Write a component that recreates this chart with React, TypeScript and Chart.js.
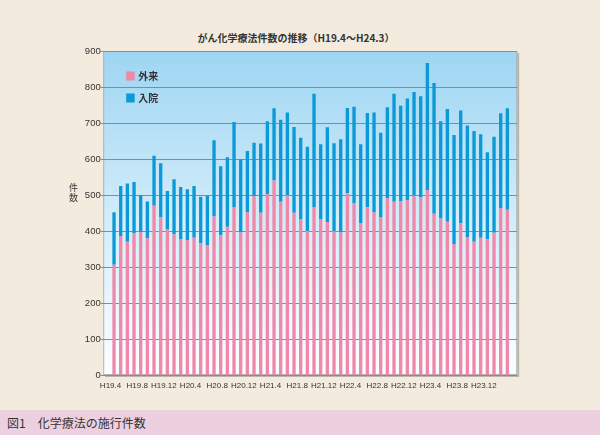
import React, { useEffect, useRef } from "react";
import { Chart, registerables } from "chart.js";

Chart.register(...registerables);

const months: string[] = [
  "H19.4", "H19.5", "H19.6", "H19.7", "H19.8", "H19.9", "H19.10", "H19.11", "H19.12",
  "H20.1", "H20.2", "H20.3", "H20.4", "H20.5", "H20.6", "H20.7", "H20.8", "H20.9", "H20.10", "H20.11", "H20.12",
  "H21.1", "H21.2", "H21.3", "H21.4", "H21.5", "H21.6", "H21.7", "H21.8", "H21.9", "H21.10", "H21.11", "H21.12",
  "H22.1", "H22.2", "H22.3", "H22.4", "H22.5", "H22.6", "H22.7", "H22.8", "H22.9", "H22.10", "H22.11", "H22.12",
  "H23.1", "H23.2", "H23.3", "H23.4", "H23.5", "H23.6", "H23.7", "H23.8", "H23.9", "H23.10", "H23.11", "H23.12",
  "H24.1", "H24.2", "H24.3",
];

// 外来 (outpatient)
const outpatient: number[] = [
  306, 386, 370, 393, 397, 380, 470, 438, 404, 391, 378, 375, 381, 366, 360,
  440, 388, 412, 465, 396, 452, 497, 451, 503, 540, 481, 499, 451, 432, 400,
  465, 433, 425, 399, 396, 505, 478, 422, 466, 453, 439, 492, 481, 483, 486,
  498, 493, 514, 448, 435, 426, 364, 422, 383, 370, 381, 377, 395, 464, 459,
];

// 入院 (inpatient)
const inpatient: number[] = [
  146, 139, 162, 143, 103, 102, 139, 150, 107, 153, 144, 141, 144, 129, 138,
  212, 192, 193, 238, 203, 170, 148, 192, 202, 201, 228, 230, 238, 227, 234,
  316, 208, 263, 245, 259, 237, 267, 219, 262, 276, 234, 252, 300, 265, 282,
  288, 281, 353, 363, 270, 313, 303, 313, 310, 308, 288, 242, 267, 263, 282,
];

const yTicks: number[] = [0, 100, 200, 300, 400, 500, 600, 700, 800, 900];

const titleText = "がん化学療法件数の推移（H19.4～H24.3）";
const yTitle = ["件", "数"];
const legendLabels = ["外来", "入院"];
const captionText = "図1　化学療法の施行件数";

const PINK = "#F088A9";
const BLUE = "#0B9AD7";
const CJK = '"Noto Sans CJK JP", "Noto Sans", sans-serif';

const plotBgPlugin = {
  id: "plotBg",
  beforeDatasetsDraw(chart: any) {
    const { ctx, chartArea, scales } = chart;
    const left = chartArea.left - 7.5;
    const right = chartArea.right + 6.5;
    const top = chartArea.top;
    const bottom = chartArea.bottom;
    ctx.save();
    // shadow
    ctx.fillStyle = "rgba(120,115,105,0.45)";
    ctx.fillRect(left + 2, top + 2, right - left, bottom - top);
    // gradient fill
    const g = ctx.createLinearGradient(0, top, 0, bottom);
    g.addColorStop(0, "#9ED5F3");
    g.addColorStop(0.55, "#D6EEFA");
    g.addColorStop(1, "#FCFEFF");
    ctx.fillStyle = g;
    ctx.fillRect(left, top, right - left, bottom - top);
    ctx.strokeStyle = "#A9B4BA";
    ctx.lineWidth = 1;
    ctx.strokeRect(left + 0.5, top + 0.5, right - left - 1, bottom - top - 1);
    // grid lines + tick marks
    ctx.strokeStyle = "#7F8E98";
    ctx.lineWidth = 1;
    const y = scales.y;
    yTicks.forEach((v) => {
      const py = Math.round(y.getPixelForValue(v)) + 0.5;
      ctx.beginPath();
      ctx.moveTo(left - 3, py);
      ctx.lineTo(right, py);
      ctx.stroke();
    });
    ctx.restore();
  },
  afterDraw(chart: any) {
    const { ctx, chartArea } = chart;
    ctx.save();
    // y axis title, vertical stacked
    ctx.fillStyle = "#333";
    ctx.font = `9px ${CJK}`;
    ctx.textAlign = "center";
    ctx.textBaseline = "middle";
    yTitle.forEach((ch, i) => {
      ctx.fillText(ch, 73.5, 187.5 + i * 10);
    });
    // legend inside plot
    const lx = chartArea.left + 15.5;
    const colors = [PINK, BLUE];
    const ys = [71.5, 93.5];
    ctx.font = `bold 10px ${CJK}`;
    ctx.textAlign = "left";
    legendLabels.forEach((lab, i) => {
      ctx.fillStyle = colors[i];
      ctx.fillRect(lx, ys[i], 8.5, 9);
      ctx.fillStyle = "#333";
      ctx.fillText(lab, lx + 12, ys[i] + 5);
    });
    ctx.restore();
  },
};

export default function App() {
  const canvasRef = useRef<HTMLCanvasElement | null>(null);

  useEffect(() => {
    if (!canvasRef.current) return;
    const chart = new Chart(canvasRef.current, {
      type: "bar",
      data: {
        labels: months,
        datasets: [
          {
            label: legendLabels[0],
            data: outpatient,
            backgroundColor: PINK,
            barPercentage: 0.5,
            categoryPercentage: 1.0,
          },
          {
            label: legendLabels[1],
            data: inpatient,
            backgroundColor: BLUE,
            barPercentage: 0.5,
            categoryPercentage: 1.0,
          },
        ],
      },
      options: {
        responsive: false,
        maintainAspectRatio: false,
        animation: false,
        layout: { padding: { left: 0, top: 51, right: 89.3, bottom: 0 } },
        plugins: {
          legend: { display: false },
          title: { display: false },
          tooltip: { enabled: false },
        },
        scales: {
          x: {
            stacked: true,
            border: { display: false },
            grid: { display: false, drawTicks: false },
            afterFit: (s: any) => {
              s.height = 60;
            },
            ticks: {
              autoSkip: false,
              maxRotation: 0,
              minRotation: 0,
              padding: 6,
              labelOffset: -3.5,
              color: "#333",
              font: { size: 8, family: '"Liberation Sans Narrow", "Liberation Sans", Arial, sans-serif' },
              callback: (_v: any, i: number) => (i % 4 === 0 ? months[i] : ""),
            },
          },
          y: {
            stacked: true,
            min: 0,
            max: 900,
            border: { display: false },
            grid: { display: false, drawTicks: false },
            afterFit: (s: any) => {
              s.width = 110.7;
            },
            ticks: {
              stepSize: 100,
              padding: 10,
              color: "#333",
              font: { size: 9.5, family: '"Liberation Sans", Arial, sans-serif' },
            },
          },
        },
      },
      plugins: [plotBgPlugin],
    });
    return () => chart.destroy();
  }, []);

  return (
    <div
      style={{
        position: "fixed",
        left: 0,
        top: 0,
        width: 600,
        height: 435,
        background: "#F3ECDE",
        overflow: "hidden",
      }}
    >
      <div
        style={{
          position: "absolute",
          left: 0,
          top: 30,
          width: 592,
          textAlign: "center",
          fontFamily: CJK,
          fontWeight: "bold",
          fontSize: 10,
          lineHeight: "16px",
          color: "#333",
        }}
      >
        {titleText}
      </div>
      <canvas
        ref={canvasRef}
        width={600}
        height={435}
        style={{ position: "absolute", left: 0, top: 0, width: 600, height: 435 }}
      />
      <div
        style={{
          position: "absolute",
          left: 0,
          top: 410,
          width: 600,
          height: 25,
          background: "#EDD0E0",
          fontFamily: CJK,
          fontSize: 12,
          lineHeight: "25px",
          color: "#333",
          paddingLeft: 7,
          boxSizing: "border-box",
        }}
      >
        {captionText}
      </div>
    </div>
  );
}
